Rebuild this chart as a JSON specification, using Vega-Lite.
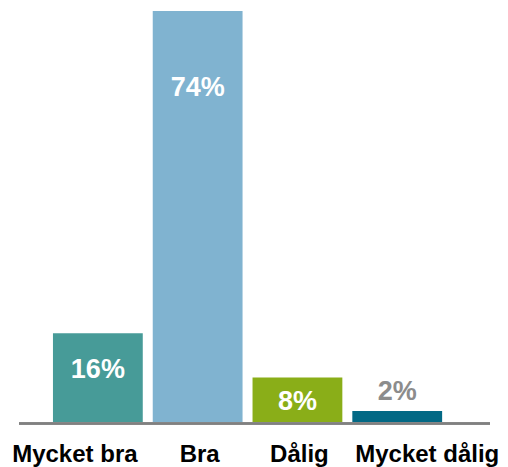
{
  "$schema": "https://vega.github.io/schema/vega-lite/v6.json",
  "autosize": "none",
  "padding": {"left": 19, "top": 0, "right": 18, "bottom": 45},
  "width": 471,
  "height": 422,
  "background": "white",
  "config": {"view": {"stroke": null}},
  "data": {
    "values": [
      {"kategori": "Mycket bra", "andel": 16, "etikett": "16%"},
      {"kategori": "Bra", "andel": 74, "etikett": "74%"},
      {"kategori": "Dålig", "andel": 8, "etikett": "8%"},
      {"kategori": "Mycket dålig", "andel": 2, "etikett": "2%"}
    ]
  },
  "encoding": {
    "x": {
      "field": "kategori",
      "type": "nominal",
      "sort": null,
      "axis": null,
      "scale": {"paddingInner": 0.1, "paddingOuter": 0.41, "align": 0.415}
    }
  },
  "layer": [
    {
      "mark": {"type": "bar"},
      "encoding": {
        "y": {"field": "andel", "type": "quantitative", "axis": null, "scale": {"domain": [0, 76], "nice": false}},
        "color": {
          "field": "kategori",
          "type": "nominal",
          "legend": null,
          "scale": {
            "domain": ["Mycket bra", "Bra", "Dålig", "Mycket dålig"],
            "range": ["#479b98", "#80b3d0", "#8aae18", "#036985"]
          }
        }
      }
    },
    {
      "mark": {"type": "rule", "color": "#808080", "strokeWidth": 2, "yOffset": 1.5},
      "encoding": {"y": {"datum": 0, "type": "quantitative"}, "x": null}
    },
    {
      "mark": {
        "type": "text",
        "font": "Liberation Sans",
        "fontWeight": "bold",
        "fontSize": 27,
        "baseline": "middle",
        "align": "center",
        "dy": {"expr": "datum.kategori == 'Mycket bra' ? 37 : datum.kategori == 'Bra' ? 77 : datum.kategori == 'Dålig' ? 24 : -19"}
      },
      "encoding": {
        "y": {"field": "andel", "type": "quantitative"},
        "text": {"field": "etikett"},
        "color": {
          "condition": {"test": "datum.kategori == 'Mycket dålig'", "value": "#8c8c8c"},
          "value": "white"
        }
      }
    },
    {
      "mark": {
        "type": "text",
        "font": "Liberation Sans",
        "fontWeight": "bold",
        "fontSize": 24,
        "baseline": "alphabetic",
        "align": "center",
        "color": "black",
        "dy": 40,
        "dx": {"expr": "datum.kategori == 'Mycket bra' ? -23 : datum.kategori == 'Mycket dålig' ? 30 : 2"}
      },
      "encoding": {
        "y": {"datum": 0, "type": "quantitative"},
        "text": {"field": "kategori"}
      }
    }
  ]
}
